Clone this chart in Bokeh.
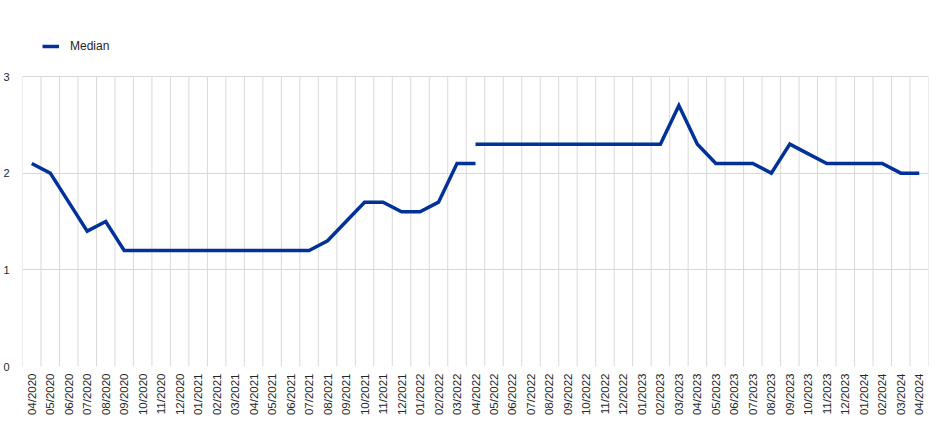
import math
from bokeh.plotting import figure
from bokeh.models import FixedTicker, Legend, LegendItem, ColumnDataSource, Range1d
from bokeh.embed import file_html
from bokeh.resources import INLINE

months = [
    "04/2020", "05/2020", "06/2020", "07/2020", "08/2020", "09/2020", "10/2020", "11/2020", "12/2020",
    "01/2021", "02/2021", "03/2021", "04/2021", "05/2021", "06/2021", "07/2021", "08/2021", "09/2021",
    "10/2021", "11/2021", "12/2021", "01/2022", "02/2022", "03/2022", "04/2022", "05/2022", "06/2022",
    "07/2022", "08/2022", "09/2022", "10/2022", "11/2022", "12/2022", "01/2023", "02/2023", "03/2023",
    "04/2023", "05/2023", "06/2023", "07/2023", "08/2023", "09/2023", "10/2023", "11/2023", "12/2023",
    "01/2024", "02/2024", "03/2024", "04/2024",
]

# Median, first vintage: 04/2020 - 04/2022
median_old_months = months[:25]
median_old = [2.1, 2.0, 1.7, 1.4, 1.5, 1.2, 1.2, 1.2, 1.2, 1.2, 1.2, 1.2, 1.2, 1.2, 1.2, 1.2,
              1.3, 1.5, 1.7, 1.7, 1.6, 1.6, 1.7, 2.1, 2.1]

# Median, second vintage: 04/2022 - 04/2024
median_new_months = months[24:]
median_new = [2.3, 2.3, 2.3, 2.3, 2.3, 2.3, 2.3, 2.3, 2.3, 2.3, 2.3, 2.7, 2.3, 2.1, 2.1, 2.1,
              2.0, 2.3, 2.2, 2.1, 2.1, 2.1, 2.1, 2.0, 2.0]

y_ticks = [0, 1, 2, 3]

BLUE = "#003299"
GRID = "#d9d9d9"
TXT = "#262626"
FONT = "Liberation Sans"

idx = {m: i for i, m in enumerate(months)}

W, H = 937, 420
FR_LEFT, FR_RIGHT, FR_TOP, FR_BOTTOM = 22, 928, 10, 366
Y3_PX = 76  # pixel row of the top tick
y_end = y_ticks[-1] * (FR_BOTTOM - FR_TOP) / (FR_BOTTOM - Y3_PX)

p = figure(width=W, height=H, output_backend="svg", toolbar_location=None,
           x_range=Range1d(-0.5, len(months) - 0.5), y_range=Range1d(y_ticks[0], y_end),
           min_border_left=FR_LEFT, min_border_right=W - FR_RIGHT,
           min_border_top=FR_TOP, min_border_bottom=H - FR_BOTTOM)
p.outline_line_color = None
p.background_fill_color = "white"

# vertical grid lines at category boundaries, only over the value range
bounds = [i - 0.5 for i in range(len(months) + 1)]
p.segment(x0=bounds, x1=bounds, y0=[y_ticks[0]] * len(bounds), y1=[y_ticks[-1]] * len(bounds),
          line_color=GRID, line_width=1, level="underlay")
p.xgrid.grid_line_color = None

src_old = ColumnDataSource(dict(x=[idx[m] for m in median_old_months], y=median_old))
src_new = ColumnDataSource(dict(x=[idx[m] for m in median_new_months], y=median_new))
r1 = p.line("x", "y", source=src_old, line_color=BLUE, line_width=3.5, line_join="miter")
r2 = p.line("x", "y", source=src_new, line_color=BLUE, line_width=3.5, line_join="miter")

# axes
p.xaxis.ticker = FixedTicker(ticks=list(range(len(months))))
p.xaxis.major_label_overrides = {i: m for i, m in enumerate(months)}
p.xaxis.major_label_orientation = math.pi / 2
p.yaxis.ticker = FixedTicker(ticks=y_ticks)
for ax in (p.xaxis, p.yaxis):
    ax.axis_line_color = None
    ax.major_tick_line_color = None
    ax.minor_tick_line_color = None
    ax.major_tick_in = 0
    ax.major_tick_out = 0
    ax.major_label_text_font = FONT
    ax.major_label_text_color = TXT
p.xaxis.major_label_text_font_size = "11.5px"
p.yaxis.major_label_text_font_size = "11px"
p.xaxis.major_label_standoff = 7
p.yaxis.major_label_standoff = 13

# horizontal grid
p.ygrid.grid_line_color = GRID
p.ygrid.grid_line_width = 1
p.ygrid.level = "underlay"

legend = Legend(items=[LegendItem(label="Median", renderers=[r1])],
                location=(20, FR_BOTTOM - 53), orientation="horizontal",
                padding=0, margin=0, spacing=0,
                glyph_width=17, glyph_height=12, label_standoff=11,
                label_text_font=FONT, label_text_font_size="12px", label_text_color=TXT,
                border_line_color=None, background_fill_alpha=0)
p.add_layout(legend, "center")

open("out.html", "w").write(file_html(p, INLINE))
